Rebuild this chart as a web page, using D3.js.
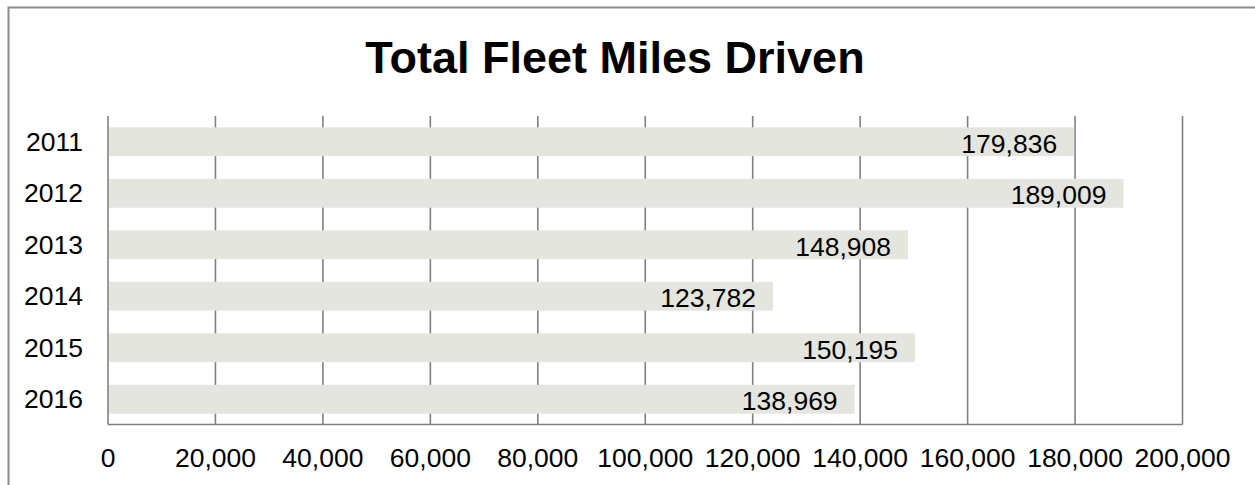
<!DOCTYPE html>
<html><head><meta charset="utf-8">
<script src="https://cdn.jsdelivr.net/npm/d3@7/dist/d3.min.js"></script>
<style>body{margin:0;background:#fff;overflow:hidden}svg{display:block}text{font-family:"Liberation Sans",Arial,sans-serif}</style>
</head><body>
<svg id="c" width="1255" height="485"></svg>
<script>
const years = ["2011","2012","2013","2014","2015","2016"];
const miles = [179836, 189009, 148908, 123782, 150195, 138969];
const tickValues = [0,20000,40000,60000,80000,100000,120000,140000,160000,180000,200000];
const title = "Total Fleet Miles Driven";

const svg = d3.select("#c");
// outer frame
svg.append("path").attr("d","M8.5,485 L8.5,7.5 L1256,7.5").attr("fill","none")
  .attr("stroke","#8c8c8c").attr("stroke-width",2);

const x = d3.scaleLinear().domain([0,200000]).range([108,1182.5]);
const y = d3.scaleBand().domain(years).range([116,425]).paddingInner(0.44).paddingOuter(0.22);
const plotTop = 116, plotBottom = 424.5;
const fs = 26.5;

svg.append("text").attr("x",615).attr("y",73).attr("text-anchor","middle")
  .attr("font-size",45).attr("font-weight","bold").attr("fill","#000").text(title);

// gridlines
svg.append("g").selectAll("line").data(tickValues).join("line")
  .attr("x1",d=>x(d)).attr("x2",d=>x(d)).attr("y1",plotTop).attr("y2",plotBottom)
  .attr("stroke","#808080").attr("stroke-width",1.6);
// bottom axis line
svg.append("line").attr("x1",x(0)).attr("x2",x(200000)).attr("y1",plotBottom).attr("y2",plotBottom)
  .attr("stroke","#808080").attr("stroke-width",1.6);

// bars
svg.append("g").selectAll("rect").data(years).join("rect")
  .attr("x",x(0)+1).attr("y",d=>y(d)).attr("height",y.bandwidth())
  .attr("width",(d,i)=>x(miles[i])-x(0)-1).attr("fill","#e3e5de");

const fmt = d3.format(",");
// value labels
svg.append("g").selectAll("text").data(years).join("text")
  .attr("x",(d,i)=>x(miles[i])-17).attr("y",d=>y(d)+y.bandwidth()/2+11)
  .attr("text-anchor","end").attr("font-size",fs).attr("fill","#000")
  .text((d,i)=>fmt(miles[i]));

// category labels
svg.append("g").selectAll("text").data(years).join("text")
  .attr("x",83).attr("y",d=>y(d)+y.bandwidth()/2+9)
  .attr("text-anchor","end").attr("font-size",fs).attr("fill","#000").text(d=>d);

// x tick labels
svg.append("g").selectAll("text").data(tickValues).join("text")
  .attr("x",d=>x(d)).attr("y",467).attr("text-anchor","middle")
  .attr("font-size",fs).attr("fill","#000").text(d=>fmt(d));
</script>
</body></html>
